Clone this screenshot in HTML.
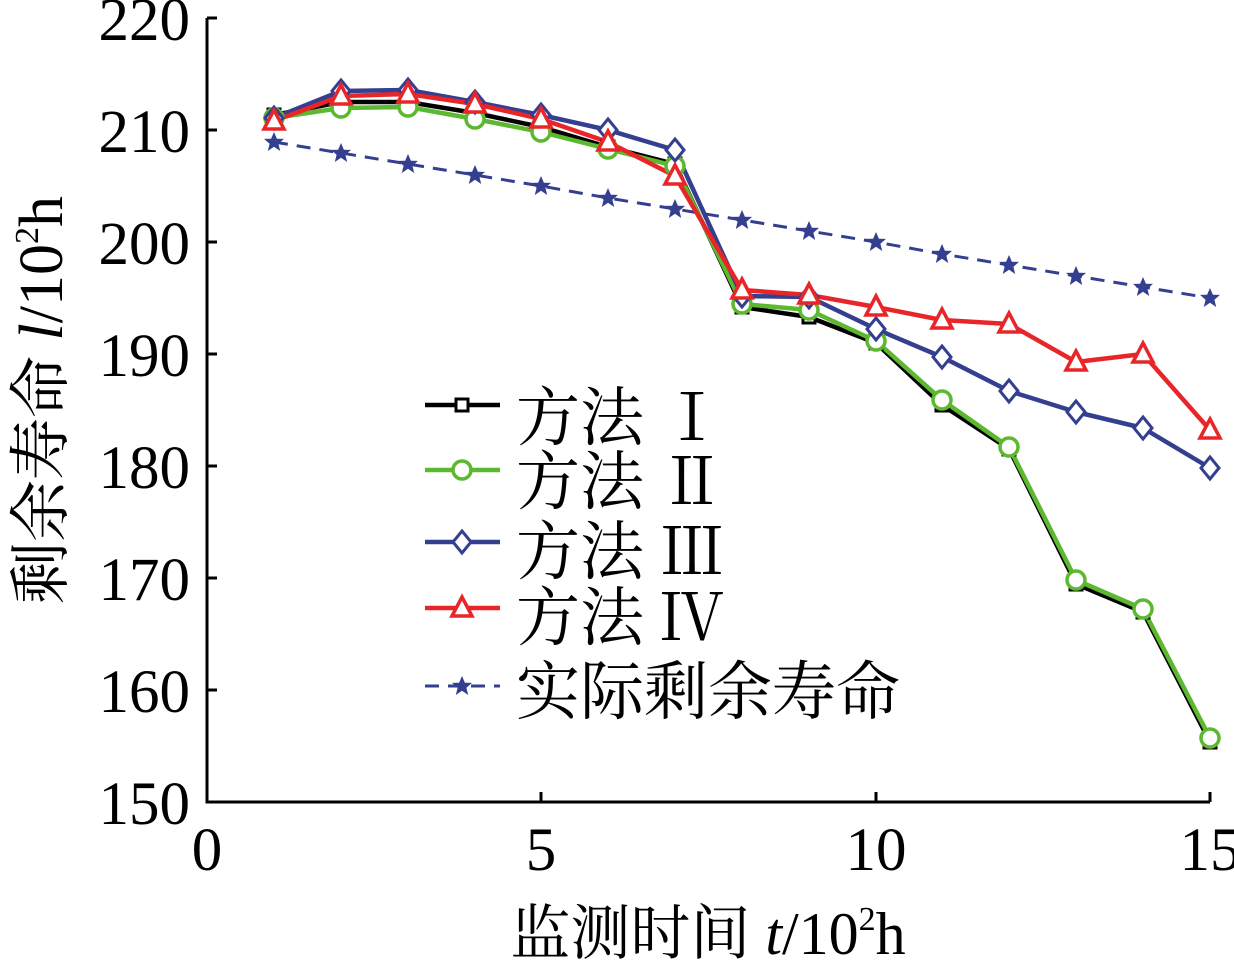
<!DOCTYPE html>
<html><head><meta charset="utf-8"><style>body{margin:0;background:#fff}</style></head><body>
<svg width="1234" height="963" xmlns="http://www.w3.org/2000/svg" font-family="Liberation Serif, Noto Serif CJK SC, serif">
<defs>
<g id="sq"><rect x="-6" y="-6" width="12" height="12" fill="#fff" stroke="#000" stroke-width="3"/></g>
<g id="ci"><circle r="9" fill="#fff" stroke="#5cb82e" stroke-width="3.5"/></g>
<g id="di"><path d="M0,-11 L9,0 0,11 -9,0Z" fill="#fff" stroke="#343f8f" stroke-width="3"/></g>
<g id="tr"><path d="M0,-11 L10,8 -10,8Z" fill="#fff" stroke="#e8262a" stroke-width="3.5"/></g>
<g id="st"><path d="M0,-10 L2.9,-3.3 10,-3.1 4.4,1.7 6.2,9 0,4.8 -6.2,9 -4.4,1.7 -10,-3.1 -2.9,-3.3Z" fill="#343f8f"/></g>
</defs>
<g stroke="#000" stroke-width="3" fill="none">
<path d="M207,18 V802 H1210"/>
<path d="M207,130 h10 M207,242 h10 M207,354 h10 M207,466 h10 M207,578 h10 M207,690 h10 M207,18 h10"/>
<path d="M541,802 v-10 M876,802 v-10 M1210,802 v-10"/>
</g>
<g font-size="61" text-anchor="end" fill="#000">
<text x="190" y="40">220</text><text x="190" y="152">210</text><text x="190" y="264">200</text>
<text x="190" y="376">190</text><text x="190" y="488">180</text><text x="190" y="600">170</text>
<text x="190" y="712">160</text><text x="190" y="824">150</text>
</g>
<g font-size="61" text-anchor="middle" fill="#000">
<text x="207" y="870">0</text><text x="541" y="870">5</text><text x="876" y="870">10</text><text x="1210" y="870">15</text>
</g>
<text x="708" y="954" font-size="60" text-anchor="middle">监测时间 <tspan font-style="italic">t</tspan>/10<tspan font-size="34" dy="-24">2</tspan><tspan dy="24">h</tspan></text>
<text transform="translate(62,400) rotate(-90)" font-size="62" text-anchor="middle">剩余寿命 <tspan font-style="italic">l</tspan>/10<tspan font-size="34" dy="-24">2</tspan><tspan dy="24">h</tspan></text>
<g fill="none" stroke-width="4.5" stroke-linejoin="round">
<polyline stroke="#343f8f" stroke-width="3" stroke-dasharray="14,9" points="274,142 341,153 408,164 475,175 541,186 608,198 675,209 742,220 809,231 876,242 942,254 1009,265 1076,276 1143,287 1210,298"/>
<polyline stroke="#000" points="274,115 341,102 408,102 475,113 541,127 608,147 675,164 742,307 809,317 876,343 942,405 1009,449 1076,584 1143,612 1210,742"/>
<polyline stroke="#5cb82e" points="274,118 341,108 408,107 475,119 541,132 608,149 675,166 742,304 809,310 876,341 942,400 1009,447 1076,580 1143,609 1210,738"/>
<polyline stroke="#343f8f" points="274,118 341,91 408,90 475,102 541,115 608,130 675,150 742,296 809,297 876,329 942,357 1009,391 1076,412 1143,428 1210,468"/>
<polyline stroke="#e8262a" points="274,121 341,96 408,94 475,104 541,119 608,142 675,176 742,290 809,295 876,307 942,320 1009,324 1076,362 1143,354 1210,430"/>
</g>
<g>
<use href="#st" x="274" y="142"/><use href="#st" x="341" y="153"/><use href="#st" x="408" y="164"/><use href="#st" x="475" y="175"/><use href="#st" x="541" y="186"/><use href="#st" x="608" y="198"/><use href="#st" x="675" y="209"/><use href="#st" x="742" y="220"/><use href="#st" x="809" y="231"/><use href="#st" x="876" y="242"/><use href="#st" x="942" y="254"/><use href="#st" x="1009" y="265"/><use href="#st" x="1076" y="276"/><use href="#st" x="1143" y="287"/><use href="#st" x="1210" y="298"/>
<use href="#sq" x="274" y="115"/><use href="#sq" x="341" y="102"/><use href="#sq" x="408" y="102"/><use href="#sq" x="475" y="113"/><use href="#sq" x="541" y="127"/><use href="#sq" x="608" y="147"/><use href="#sq" x="675" y="164"/><use href="#sq" x="742" y="307"/><use href="#sq" x="809" y="317"/><use href="#sq" x="876" y="343"/><use href="#sq" x="942" y="405"/><use href="#sq" x="1009" y="449"/><use href="#sq" x="1076" y="584"/><use href="#sq" x="1143" y="612"/><use href="#sq" x="1210" y="742"/>
<use href="#ci" x="274" y="118"/><use href="#ci" x="341" y="108"/><use href="#ci" x="408" y="107"/><use href="#ci" x="475" y="119"/><use href="#ci" x="541" y="132"/><use href="#ci" x="608" y="149"/><use href="#ci" x="675" y="166"/><use href="#ci" x="742" y="304"/><use href="#ci" x="809" y="310"/><use href="#ci" x="876" y="341"/><use href="#ci" x="942" y="400"/><use href="#ci" x="1009" y="447"/><use href="#ci" x="1076" y="580"/><use href="#ci" x="1143" y="609"/><use href="#ci" x="1210" y="738"/>
<use href="#di" x="274" y="118"/><use href="#di" x="341" y="91"/><use href="#di" x="408" y="90"/><use href="#di" x="475" y="102"/><use href="#di" x="541" y="115"/><use href="#di" x="608" y="130"/><use href="#di" x="675" y="150"/><use href="#di" x="742" y="296"/><use href="#di" x="809" y="297"/><use href="#di" x="876" y="329"/><use href="#di" x="942" y="357"/><use href="#di" x="1009" y="391"/><use href="#di" x="1076" y="412"/><use href="#di" x="1143" y="428"/><use href="#di" x="1210" y="468"/>
<use href="#tr" x="274" y="121"/><use href="#tr" x="341" y="96"/><use href="#tr" x="408" y="94"/><use href="#tr" x="475" y="104"/><use href="#tr" x="541" y="119"/><use href="#tr" x="608" y="142"/><use href="#tr" x="675" y="176"/><use href="#tr" x="742" y="290"/><use href="#tr" x="809" y="295"/><use href="#tr" x="876" y="307"/><use href="#tr" x="942" y="320"/><use href="#tr" x="1009" y="324"/><use href="#tr" x="1076" y="362"/><use href="#tr" x="1143" y="354"/><use href="#tr" x="1210" y="430"/>
</g>
<g stroke-width="4.5">
<line x1="425" y1="405" x2="500" y2="405" stroke="#000"/><use href="#sq" x="462" y="405"/>
<line x1="425" y1="470" x2="500" y2="470" stroke="#5cb82e"/><use href="#ci" x="462" y="470"/>
<line x1="425" y1="542" x2="500" y2="542" stroke="#343f8f"/><use href="#di" x="462" y="542"/>
<line x1="425" y1="608" x2="500" y2="608" stroke="#e8262a"/><use href="#tr" x="462" y="608"/>
<line x1="425" y1="686" x2="500" y2="686" stroke="#343f8f" stroke-width="3" stroke-dasharray="14,9"/><use href="#st" x="462" y="686"/>
</g>
<g font-size="64" fill="#000">
<text x="516" y="440">方法 Ⅰ</text>
<text x="516" y="504">方法 Ⅱ</text>
<text x="516" y="574">方法 Ⅲ</text>
<text x="516" y="640">方法 Ⅳ</text>
<text x="516" y="714">实际剩余寿命</text>
</g>
</svg>
</body></html>
